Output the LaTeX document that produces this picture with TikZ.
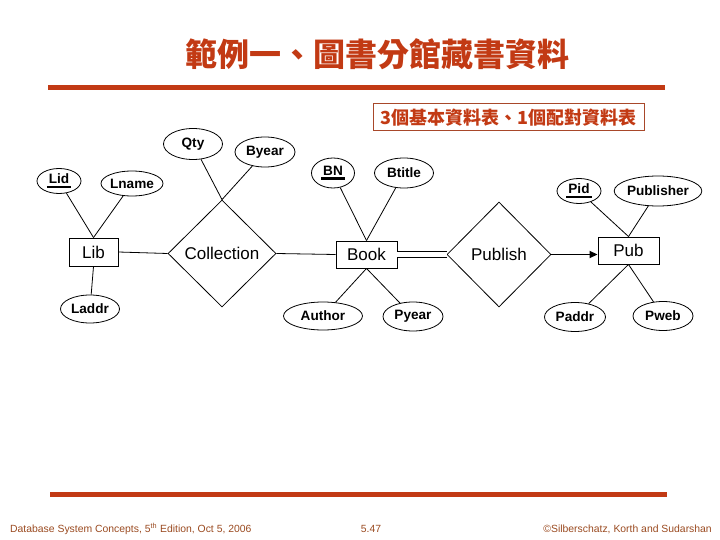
\documentclass[tikz,border=0pt]{standalone}
\usepackage{fontspec}
\setmainfont{Liberation Sans}
\newfontfamily\cjk{Noto Sans CJK TC}
\usetikzlibrary{shapes.geometric,arrows.meta}
\definecolor{ppred}{HTML}{C23A14}
\definecolor{boxline}{HTML}{A8482A}
\definecolor{ftc}{HTML}{9A4A20}
\newcommand\keyu[1]{\begingroup\setbox0=\hbox{#1}\rlap{\kern-2pt\raisebox{-4.5pt}{\rule{\dimexpr\wd0+4pt\relax}{2.5pt}}}\box0\endgroup}
\tikzset{
  attr/.style={ellipse, draw, line width=0.8pt, inner sep=0pt,
    font=\fontsize{13.6}{13.6}\selectfont\bfseries},
  ent/.style={rectangle, draw, line width=0.9pt, inner sep=0pt,
    font=\fontsize{17}{17}\selectfont},
  rel/.style={diamond, draw, line width=0.8pt, inner sep=0pt, aspect=1,
    font=\fontsize{17}{17}\selectfont},
  conn/.style={line width=0.8pt},
  rule/.style={ppred, line width=5pt},
  foot/.style={ftc, inner sep=0pt, font=\fontsize{10.4}{10.4}\selectfont}
}
\begin{document}
\begin{tikzpicture}[x=1pt,y=-1pt]
\useasboundingbox (0,0) rectangle (720,540);
% title
\node[ppred, font=\cjk\fontsize{32}{32}\selectfont\bfseries] (title) at (377,54) {範例一、圖書分館藏書資料};
\draw[rule] (48,88) -- (665,88);
\draw[rule] (50,494) -- (667,494);
% subtitle box
\node[draw=boxline, line width=1pt, minimum width=271pt, minimum height=27pt, inner sep=0pt,
  text=ppred, font=\cjk\fontsize{18}{18}\selectfont\bfseries] (sub) at (508.5,117.5) {3個基本資料表、1個配對資料表};
% entities
\node[ent, minimum width=49pt, minimum height=28pt] (Lib) at (93.5,252) {Lib};
\node[ent, minimum width=61pt, minimum height=27pt] (Book) at (366.5,254.5) {Book};
\node[ent, minimum width=61pt, minimum height=27pt] (Pub) at (628.5,250.5) {Pub};
% relationships
\node[rel, minimum width=108pt, minimum height=107pt] (Collection) at (222,253.5) {Collection};
\node[rel, minimum width=104pt, minimum height=105pt] (Publish) at (499,254.5) {Publish};
% attributes
\node[attr, minimum width=44pt, minimum height=25pt] (Lid) at (59,181) {\keyu{Lid}};
\node[attr, minimum width=60pt, minimum height=25pt] (Lname) at (132,183.5) {Lname};
\node[attr, minimum width=59pt, minimum height=28pt] (Laddr) at (90,309) {Laddr};
\node[attr, minimum width=59pt, minimum height=31pt] (Qty) at (193,144) {Qty};
\node[attr, minimum width=60pt, minimum height=30pt] (Byear) at (265,152) {Byear};
\node[attr, minimum width=43pt, minimum height=30pt] (BN) at (333,173) {\keyu{BN}};
\node[attr, minimum width=59pt, minimum height=30pt] (Btitle) at (404,173) {Btitle};
\node[attr, minimum width=79pt, minimum height=28pt] (Author) at (323,316) {Author};
\node[attr, minimum width=60pt, minimum height=29pt] (Pyear) at (413,316.5) {Pyear};
\node[attr, minimum width=44pt, minimum height=25pt] (Pid) at (579,191) {\keyu{Pid}};
\node[attr, minimum width=78pt, minimum height=30pt] (Publisher) at (658,191) {Publisher};
\node[attr, minimum width=61pt, minimum height=29pt] (Paddr) at (575,317) {Paddr};
\node[attr, minimum width=60pt, minimum height=29pt] (Pweb) at (663,316) {Pweb};
% connectors
\draw[conn] (Lid) -- (Lib.north);
\draw[conn] (Lname) -- (Lib.north);
\draw[conn] (Laddr) -- (Lib.south);
\draw[conn] (Qty) -- (Collection.north);
\draw[conn] (Byear) -- (Collection.north);
\draw[conn] (Lib.east) -- (Collection.west);
\draw[conn] (Collection.east) -- (Book.west);
\draw[conn] (BN) -- (Book.north);
\draw[conn] (Btitle) -- (Book.north);
\draw[conn] (Author) -- (Book.south);
\draw[conn] (Pyear) -- (Book.south);
\draw[line width=0.9pt, double, double distance=4.5pt] (Book.east) -- (Publish.west);
\draw[line width=1.8pt, -{Triangle[length=8pt,width=7pt]}] (Publish.east) -- (Publish.east -| Pub.west);
\draw[conn] (Pid) -- (Pub.north);
\draw[conn] (Publisher) -- (Pub.north);
\draw[conn] (Paddr) -- (Pub.south);
\draw[conn] (Pweb) -- (Pub.south);
% footer
\node[foot, anchor=west] (fl) at (10,529) {Database System Concepts, 5\textsuperscript{th} Edition, Oct 5, 2006};
\node[foot] (fc) at (371,529) {5.47};
\node[foot, anchor=east] (fr) at (712,529) {©Silberschatz, Korth and Sudarshan};
\end{tikzpicture}
\end{document}
